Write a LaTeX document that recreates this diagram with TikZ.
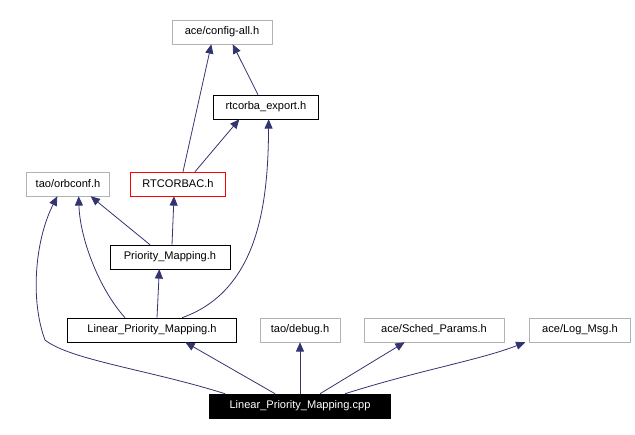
\documentclass[tikz,border=0pt]{standalone}
\usepackage{fontspec}
\setmainfont{Liberation Sans}
\usetikzlibrary{arrows.meta}
\begin{document}
\begin{tikzpicture}[x=0.75pt,y=-0.75pt,
  box/.style={draw=black,fill=white,minimum height=18pt,inner xsep=3pt,font=\fontsize{8.3}{10}\selectfont},
  gbox/.style={box,draw=gray!60},
  rbox/.style={box,draw=red},
  kbox/.style={box,fill=black,text=white},
  e/.style={draw=blue!30!black!80,-{Triangle[length=7pt,width=6pt]},line width=0.6pt}]
\useasboundingbox (0,0) rectangle (635,435);
\node[gbox,minimum width=75pt] (cfg) at (222,32) {ace/config-all.h};
\node[box,minimum width=79pt] (rte) at (266,107) {rtcorba\_export.h};
\node[gbox,minimum width=62pt] (orb) at (68,184) {tao/orbconf.h};
\node[rbox,minimum width=71pt] (rtc) at (178,184) {RTCORBAC.h};
\node[box,minimum width=90pt] (pm) at (170,257) {Priority\_Mapping.h};
\node[box,minimum width=127pt] (lpm) at (152,330) {Linear\_Priority\_Mapping.h};
\node[gbox,minimum width=60pt] (dbg) at (300,330) {tao/debug.h};
\node[gbox,minimum width=105pt] (sp) at (434,330) {ace/Sched\_Params.h};
\node[gbox,minimum width=76pt] (log) at (580,330) {ace/Log\_Msg.h};
\node[kbox,minimum width=136pt] (cpp) at (300,406) {Linear\_Priority\_Mapping.cpp};
\draw[e] (cpp.north west)++(66,0) -- ([xshift=25pt]lpm.south);
\draw[e] (cpp) -- (dbg);
\draw[e] (cpp.north)++(20,0) -- ([xshift=-22pt]sp.south);
\draw[e] (cpp.north)++(45,0) .. controls (420,370) and (480,360) .. ([xshift=-41pt]log.south);
\draw[e] (cpp.north west)++(16,0) .. controls (150,370) and (70,360) .. (45,340) .. controls (30,300) and (35,240) .. ([xshift=-8pt]orb.south);
\draw[e] (lpm.north)++(-27,0) .. controls (100,290) and (80,240) .. ([xshift=8pt]orb.south);
\draw[e] (lpm.north)++(5,0) -- ([xshift=-8pt]pm.south);
\draw[e] (lpm.north)++(30,0) .. controls (260,290) and (268,200) .. ([xshift=2pt]rte.south);
\draw[e] (pm.north)++(-20,0) -- ([xshift=17pt]orb.south);
\draw[e] (pm.north)++(2,0) -- ([xshift=-3pt]rtc.south);
\draw[e] (rtc.north)++(5,0) -- ([xshift=-8pt]cfg.south);
\draw[e] (rtc.north)++(17,0) -- ([xshift=-20pt]rte.south);
\draw[e] (rte.north)++(-8,0) -- ([xshift=8pt]cfg.south);
\end{tikzpicture}
\end{document}
